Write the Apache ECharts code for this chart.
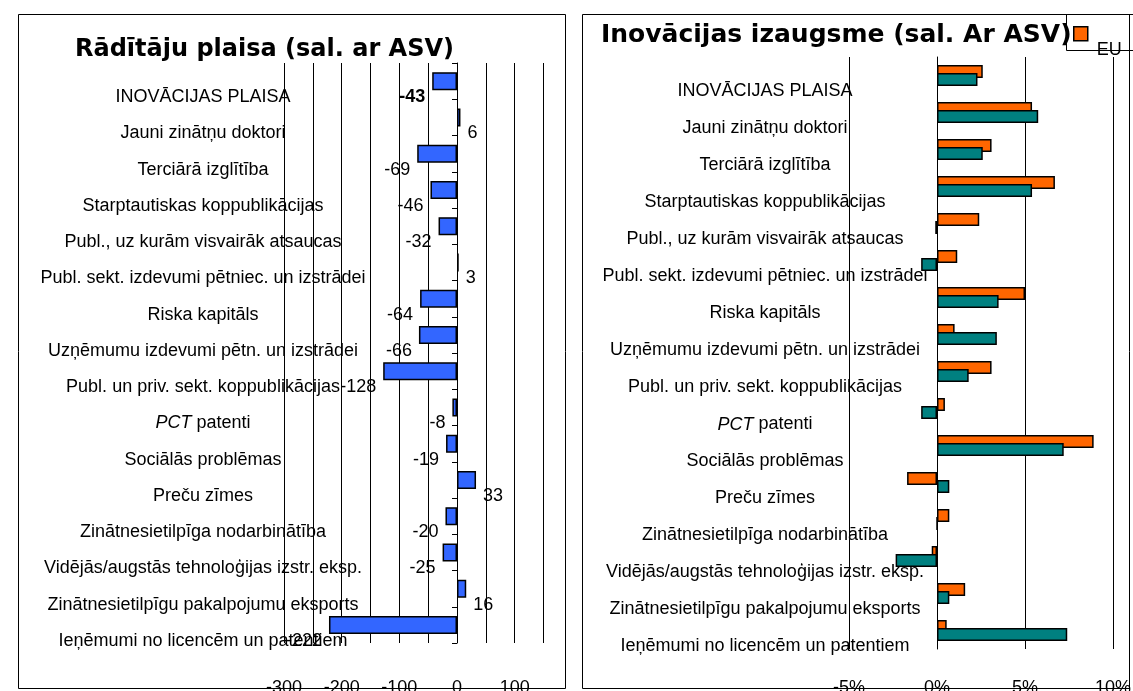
<!DOCTYPE html>
<html style="height: 100%">
    <head>
        <meta charset="utf-8">
    </head>
    <body style="height: 100%; margin: 0; background: #fff">
        <div id="container" style="height: 691px; width: 1133px;"></div>
        <script type="text/javascript" src="https://cdn.jsdelivr.net/npm/echarts@6/dist/echarts.min.js"></script>
        <script type="text/javascript">
var dom = document.getElementById("container");
var myChart = echarts.init(dom);
var option;

// categories (same for both panels)
const categories = [
    'INOVĀCIJAS PLAISA',
    'Jauni zinātņu doktori',
    'Terciārā izglītība',
    'Starptautiskas koppublikācijas',
    'Publ., uz kurām visvairāk atsaucas',
    'Publ. sekt. izdevumi pētniec. un izstrādei',
    'Riska kapitāls',
    'Uzņēmumu izdevumi pētn. un izstrādei',
    'Publ. un priv. sekt. koppublikācijas',
    'PCT patenti',
    'Sociālās problēmas',
    'Preču zīmes',
    'Zinātnesietilpīga nodarbinātība',
    'Vidējās/augstās tehnoloģijas izstr. eksp.',
    'Zinātnesietilpīgu pakalpojumu eksports',
    'Ieņēmumi no licencēm un patentiem'
];

// left panel: gap vs USA
const gapValues = [-43, 6, -69, -46, -32, 3, -64, -66, -128, -8, -19, 33, -20, -25, 16, -222];
// right panel: growth vs USA, %
const growthEU = [2.6, 5.4, 3.1, 6.7, 2.4, 1.15, 5.0, 1.0, 3.1, 0.45, 8.9, -1.7, 0.7, -0.3, 1.6, 0.55];
const growthLV = [2.3, 5.75, 2.6, 5.4, -0.1, -0.9, 3.5, 3.4, 1.8, -0.9, 7.2, 0.7, 0, -2.35, 0.7, 7.4];

const leftTicks = [-300, -200, -100, 0, 100];
const rightTicks = [-5, 0, 5, 10];

const FONT = '"Liberation Sans", Arial, sans-serif';
const txt = { fontFamily: FONT, fontSize: 18, color: '#000' };

// PCT is italic in the original
function catLabel(value) {
    if (value.indexOf('PCT ') === 0) {
        return '{i|PCT}' + value.slice(3);
    }
    return value;
}
const catAxisLabel = Object.assign({}, txt, {
    interval: 0,
    align: 'center',
    padding: [32, 0, 0, 0],
    formatter: catLabel,
    rich: { i: { fontStyle: 'italic', fontFamily: FONT, fontSize: 18, color: '#000' } }
});

option = {
    backgroundColor: '#fff',
    animation: false,
    title: [
        {
            text: 'Rādītāju plaisa (sal. ar ASV)',
            left: 70,
            top: 33,
            textStyle: { fontFamily: '"DejaVu Sans", Verdana, sans-serif', fontWeight: 'bold', fontSize: 24, color: '#000' }
        },
        {
            text: 'Inovācijas izaugsme (sal. Ar ASV)',
            left: 596,
            top: 18,
            textStyle: { fontFamily: '"DejaVu Sans", Verdana, sans-serif', fontWeight: 'bold', fontSize: 25, color: '#000' }
        }
    ],
    legend: {
        data: ['EU'],
        left: 1073,
        top: 26,
        padding: 0,
        icon: 'rect',
        itemWidth: 14,
        itemHeight: 14,
        itemGap: 4,
        itemStyle: { borderColor: '#000', borderWidth: 1.5 },
        formatter: '{t|{name}}',
        textStyle: {
            rich: { t: { fontFamily: FONT, fontSize: 18, color: '#000', padding: [32, 0, 0, 4] } }
        }
    },
    grid: [
        { left: 284, top: 63, width: 259.5, height: 580, outerBoundsMode: 'none', containLabel: false },
        { left: 849, top: 57, width: 264, height: 592, outerBoundsMode: 'none', containLabel: false }
    ],
    xAxis: [
        {
            type: 'value',
            gridIndex: 0,
            min: -300,
            max: 150,
            interval: 50,
            axisLine: { show: false },
            axisTick: { show: false },
            splitLine: { lineStyle: { color: '#000', width: 1 } },
            axisLabel: Object.assign({}, txt, { margin: 36, customValues: leftTicks })
        },
        {
            type: 'value',
            gridIndex: 1,
            min: -5,
            max: 10,
            interval: 5,
            axisLine: { show: false },
            axisTick: { show: false },
            splitLine: { lineStyle: { color: '#000', width: 1 } },
            axisLabel: Object.assign({}, txt, {
                margin: 30,
                customValues: rightTicks,
                formatter: function (v) { return v + '%'; }
            })
        }
    ],
    yAxis: [
        {
            type: 'category',
            gridIndex: 0,
            inverse: true,
            data: categories,
            axisLine: { onZero: true, lineStyle: { color: '#000', width: 1 } },
            axisTick: { show: true, length: 5, lineStyle: { color: '#000' } },
            axisLabel: Object.assign({}, catAxisLabel, { margin: 81 })
        },
        {
            type: 'category',
            gridIndex: 1,
            inverse: true,
            data: categories,
            axisLine: { onZero: true, lineStyle: { color: '#000', width: 1 } },
            axisTick: { show: false },
            axisLabel: Object.assign({}, catAxisLabel, { margin: 84 })
        }
    ],
    series: [
        {
            name: 'Plaisa',
            type: 'bar',
            xAxisIndex: 0,
            yAxisIndex: 0,
            barWidth: 18,
            itemStyle: { color: '#3366FF', borderColor: '#000', borderWidth: 1.5 },
            label: Object.assign({}, txt, { show: true, distance: 7, offset: [0, 16] }),
            data: gapValues.map(function (v, i) {
                var lab = { position: v < 0 ? 'left' : 'right' };
                if (i === 0) lab.fontWeight = 'bold';
                return { value: v, label: lab };
            })
        },
        {
            name: 'EU',
            type: 'bar',
            xAxisIndex: 1,
            yAxisIndex: 1,
            barWidth: 13,
            barGap: '-38%',
            itemStyle: { color: '#FF6600', borderColor: '#000', borderWidth: 1.5 },
            data: growthEU
        },
        {
            name: 'LV',
            type: 'bar',
            xAxisIndex: 1,
            yAxisIndex: 1,
            barWidth: 13,
            barGap: '-38%',
            itemStyle: { color: '#008080', borderColor: '#000', borderWidth: 1.5 },
            data: growthLV
        }
    ],
    graphic: {
        elements: [
            { type: 'rect', shape: { x: 18.5, y: 14.5, width: 547, height: 674 }, style: { fill: null, stroke: '#000', lineWidth: 1 }, z: 100 },
            { type: 'rect', shape: { x: 582.5, y: 14.5, width: 547, height: 674 }, style: { fill: null, stroke: '#000', lineWidth: 1 }, z: 100 },
            { type: 'rect', shape: { x: 1066.5, y: 14.5, width: 70, height: 36 }, style: { fill: null, stroke: '#000', lineWidth: 1 }, z: 100 }
        ]
    }
};

if (option && typeof option === 'object') {
    myChart.setOption(option);
}
        </script>
    </body>
</html>
